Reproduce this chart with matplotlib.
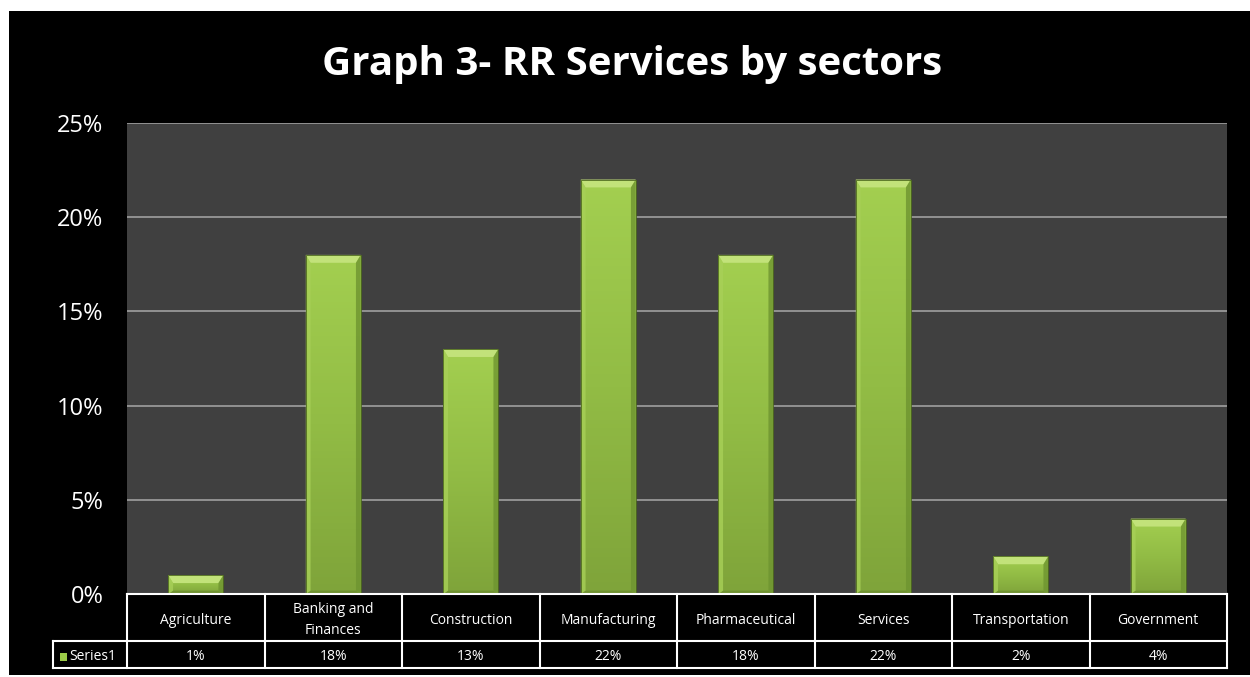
import numpy as np
import matplotlib.pyplot as plt
from matplotlib.patches import Rectangle, Polygon
from matplotlib.colors import LinearSegmentedColormap
from matplotlib.transforms import blended_transform_factory

plt.rcParams['font.family'] = ['Open Sans', 'DejaVu Sans']

sectors = ['Agriculture', 'Banking and\nFinances', 'Construction', 'Manufacturing',
           'Pharmaceutical', 'Services', 'Transportation', 'Government']
values = [1, 18, 13, 22, 18, 22, 2, 4]
value_labels = ['1%', '18%', '13%', '22%', '18%', '22%', '2%', '4%']
series_name = 'Series1'
yticks = [0, 5, 10, 15, 20, 25]

W, H = 1250, 677
fig = plt.figure(figsize=(W / 100, H / 100), dpi=100, facecolor='white')
# black chart area
fig.patches.append(Rectangle((9 / W, 2 / H), 1 - 9 / W, (H - 13) / H,
                             transform=fig.transFigure, facecolor='black',
                             edgecolor='none', zorder=-10))

ax = fig.add_axes([127 / W, (H - 594) / H, 1100 / W, 471 / H])
ax.set_zorder(5)
ax.set_facecolor('#404040')
ax.set_yticks(yticks)
ax.set_yticklabels([f'{t}%' for t in yticks], color='white', fontsize=17)
ax.set_xticks([])
ax.tick_params(axis='y', length=0, pad=17)
ax.yaxis.grid(True, color='#a0a0a0', lw=1.2)
ax.set_axisbelow(True)
for s in ax.spines.values():
    s.set_visible(False)

# bars with bevel
bw = 0.4
dx, dy, db = 0.035, 0.42, 0.18
grad = np.linspace(0, 1, 100).reshape(-1, 1)
cmap = LinearSegmentedColormap.from_list('g', ['#7fa43a', '#92bc45', '#a3cf50'])
for i, v in enumerate(values):
    x0, x1 = i - bw / 2, i + bw / 2
    rect = Rectangle((x0, 0), bw, v, facecolor='none', edgecolor='none')
    ax.add_patch(rect)
    im = ax.imshow(grad, extent=(x0, x1, 0, v), aspect='auto', cmap=cmap,
                   origin='lower', zorder=2)
    im.set_clip_path(rect)
    d = min(dy, v / 2)
    b = min(db, v / 4)
    ax.add_patch(Polygon([(x0, v), (x1, v), (x1 - dx, v - d), (x0 + dx, v - d)],
                         facecolor='#c2e27a', edgecolor='none', zorder=3))
    ax.add_patch(Polygon([(x0, 0), (x1, 0), (x1 - dx, b), (x0 + dx, b)],
                         facecolor='#6f9230', edgecolor='none', zorder=3))
    ax.add_patch(Polygon([(x0, 0), (x0, v), (x0 + dx, v - d), (x0 + dx, b)],
                         facecolor='#a8d058', edgecolor='none', alpha=0.8, zorder=3))
    ax.add_patch(Polygon([(x1, 0), (x1, v), (x1 - dx, v - d), (x1 - dx, b)],
                         facecolor='#6e9430', edgecolor='none', alpha=0.8, zorder=3))
    ax.plot([x0, x0, x1, x1], [0, v, v, 0], color='#4e6a1e', lw=0.6, zorder=4)
ax.set_xlim(-0.5, len(sectors) - 0.5)
ax.set_ylim(0, 25)

# data table under the axes
tr = blended_transform_factory(ax.transData, ax.transAxes)
h1 = 47 / 471
h2 = 27 / 471
left = -0.5 - 74 / 137.5
n = len(sectors)
lc = dict(color='white', lw=1.5, transform=tr, clip_on=False, zorder=5)
ax.plot([-0.5, n - 0.5], [0, 0], **lc)
ax.plot([left, n - 0.5], [-h1, -h1], **lc)
ax.plot([left, n - 0.5], [-h1 - h2, -h1 - h2], **lc)
ax.plot([left, left], [-h1, -h1 - h2], **lc)
for k in range(n + 1):
    ax.plot([k - 0.5, k - 0.5], [0, -h1 - h2], **lc)
off = 2.5 / 471
for i, (name, lab) in enumerate(zip(sectors, value_labels)):
    ax.text(i, -h1 / 2 - off, name, transform=tr, ha='center', va='center',
            color='white', fontsize=10, linespacing=1.5)
    ax.text(i, -h1 - h2 / 2 - off, lab, transform=tr, ha='center', va='center',
            color='white', fontsize=10)
ax.add_patch(Rectangle((left + 0.05, -h1 - h2 / 2 - 0.008 - off), 0.055, 0.017,
                       transform=tr, clip_on=False, facecolor='#9ccb48',
                       edgecolor='none', zorder=6))
ax.text(left + 0.12, -h1 - h2 / 2 - off, series_name, transform=tr, ha='left',
        va='center', color='white', fontsize=10)

fig.text(632 / W, 1 - 65 / H, 'Graph 3- RR Services by sectors', ha='center',
         va='center', color='white', fontsize=29, fontweight='bold')

fig.savefig('out.png', dpi=100, facecolor=fig.get_facecolor())
